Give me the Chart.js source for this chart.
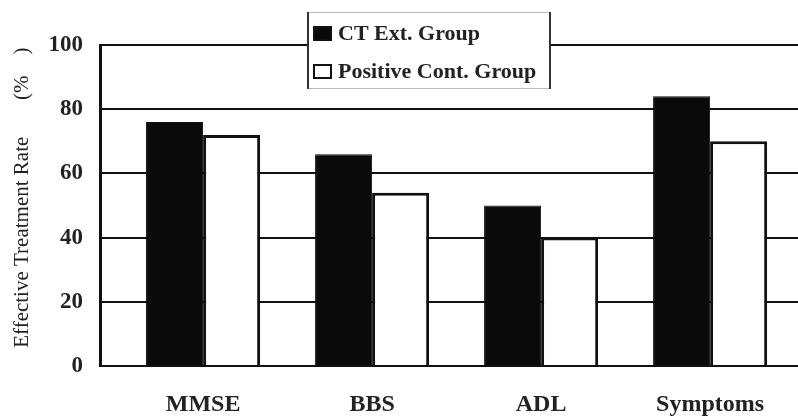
<!DOCTYPE html>
<html>
<head>
<meta charset="utf-8">
<script src="https://cdn.jsdelivr.net/npm/chart.js@4.4.1/dist/chart.umd.min.js"></script>
<style>
  html, body { margin: 0; padding: 0; background: #fff; overflow: hidden; }
</style>
</head>
<body>
<canvas id="rateChart" width="798" height="419"></canvas>
<script>
// values
const categories = ['MMSE', 'BBS', 'ADL', 'Symptoms'];
const ctExtGroup = [76, 66, 50, 84];
const positiveContGroup = [72, 54, 40, 70];
const yTicks = [0, 20, 40, 60, 80, 100];

const serif = '"Liberation Serif", "DejaVu Serif", serif';

// legend box drawn over the top of the plot, like the original figure
const boxLegend = {
    id: 'boxLegend',
    afterDraw(chart) {
        const ctx = chart.ctx;
        const x = 307, y = 12, w = 244, h = 77;
        ctx.save();
        ctx.fillStyle = '#fff';
        ctx.fillRect(x, y, w, h);
        ctx.strokeStyle = '#bbb';
        ctx.lineWidth = 1;
        ctx.beginPath();
        ctx.moveTo(x, y + 0.5); ctx.lineTo(x + w, y + 0.5);
        ctx.moveTo(x, y + h - 0.5); ctx.lineTo(x + w, y + h - 0.5);
        ctx.stroke();
        ctx.strokeStyle = '#333';
        ctx.lineWidth = 2;
        ctx.beginPath();
        ctx.moveTo(x + 1, y); ctx.lineTo(x + 1, y + h);
        ctx.moveTo(x + w - 1, y); ctx.lineTo(x + w - 1, y + h);
        ctx.stroke();

        ctx.font = 'bold 22px ' + serif;
        ctx.textBaseline = 'middle';
        chart.data.datasets.forEach((ds, i) => {
            const cy = y + 21 + i * 38;
            ctx.fillStyle = ds.backgroundColor;
            ctx.fillRect(x + 7, cy - 6, 17, 13);
            ctx.strokeStyle = '#111';
            ctx.lineWidth = 2;
            ctx.strokeRect(x + 7, cy - 6, 17, 13);
            ctx.fillStyle = '#222';
            ctx.fillText(ds.label, x + 31, cy + 1);
        });
        ctx.restore();
    }
};

const ctx = document.getElementById('rateChart').getContext('2d');
const rateChart = new Chart(ctx, {
    type: 'bar',
    data: {
        datasets: [{
            label: 'CT Ext. Group',
            data: categories.map((c, i) => ({ x: i, y: ctExtGroup[i] })),
            backgroundColor: '#0a0a0a',
            borderColor: '#111',
            borderWidth: 1,
            categoryPercentage: 0.675,
            barPercentage: 1.0
        }, {
            label: 'Positive Cont. Group',
            data: categories.map((c, i) => ({ x: i, y: positiveContGroup[i] })),
            backgroundColor: '#fff',
            borderColor: '#111',
            borderWidth: 3,
            categoryPercentage: 0.675,
            barPercentage: 1.0
        }]
    },
    options: {
        responsive: false,
        animation: false,
        layout: { padding: { top: 45, right: 0, left: 0, bottom: 0 } },
        plugins: {
            legend: { display: false },
            tooltip: { enabled: false }
        },
        scales: {
            x: {
                type: 'linear',
                offset: false,
                min: -0.61,
                max: 3.52,
                afterBuildTicks: s => { s.ticks = categories.map((c, i) => ({ value: i })); },
                afterFit: s => { s.height = 53; },
                grid: { display: false, drawTicks: false, offset: false },
                border: { display: true, color: '#111', width: 2 },
                ticks: {
                    callback: v => categories[v],
                    color: '#222',
                    padding: 24,
                    maxRotation: 0,
                    font: { family: serif, size: 24, weight: 'bold' }
                }
            },
            y: {
                min: 0,
                max: 100,
                afterBuildTicks: s => { s.ticks = yTicks.map(v => ({ value: v })); },
                afterFit: s => { s.width = 100; },
                grid: { color: '#111', lineWidth: 2, drawTicks: false },
                border: { display: true, color: '#111', width: 3 },
                ticks: {
                    color: '#222',
                    padding: 17,
                    font: { family: serif, size: 23, weight: 'bold' }
                },
                title: {
                    display: true,
                    text: '   Effective Treatment Rate       (%    )',
                    color: '#222',
                    padding: { top: 10, bottom: 0 },
                    font: { family: serif, size: 21 }
                }
            }
        }
    },
    plugins: [boxLegend]
});
</script>
</body>
</html>
